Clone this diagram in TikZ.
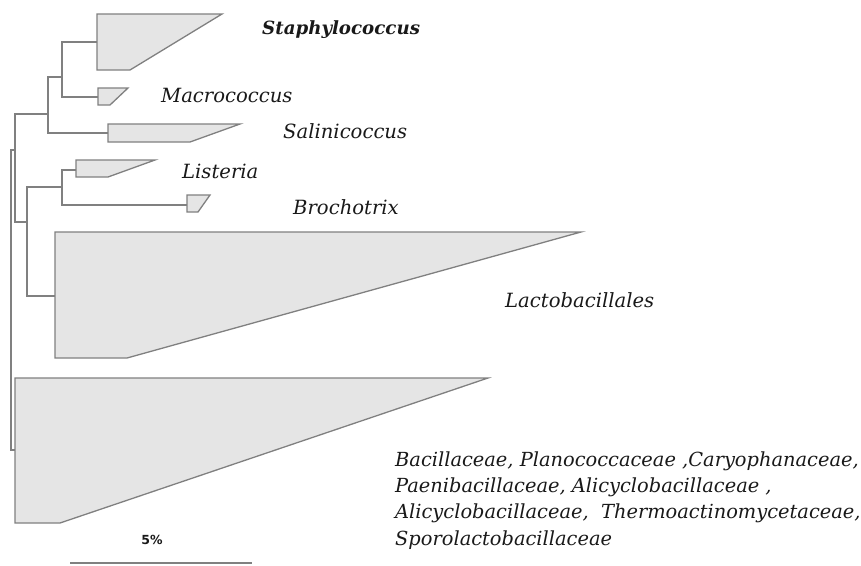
\documentclass[tikz,border=0pt]{standalone}
\usepackage{fontspec}
\setmainfont{DejaVu Serif}
\newfontfamily\labfont{DejaVu Serif}
\newfontfamily\barfont{DejaVu Sans}
\definecolor{linegray}{RGB}{128,128,128}
\definecolor{cladefill}{RGB}{229,229,229}
\definecolor{textcol}{RGB}{25,25,25}
\begin{document}
\begin{tikzpicture}[x=1pt,y=-1pt,
  branch/.style={draw=linegray,line width=1.3pt},
  clade/.style={draw=linegray,fill=cladefill,line width=1.3pt,line join=miter},
  taxon/.style={anchor=west,inner sep=0pt,text=textcol,font=\labfont\itshape\fontsize{19.6}{22}\selectfont},
  bigtaxon/.style={anchor=west,inner sep=0pt,text=textcol,font=\labfont\bfseries\itshape\fontsize{18.2}{21}\selectfont},
  familytext/.style={anchor=base west,inner sep=0pt,text=textcol,align=left,font=\labfont\itshape\fontsize{19.4}{26.2}\selectfont}
]
\useasboundingbox (0,0) rectangle (861,565);

% collapsed clades
\draw[clade] (97,14) -- (222,14) -- (130,70) -- (97,70) -- cycle;
\draw[clade] (98,88) -- (128,88) -- (110,105) -- (98,105) -- cycle;
\draw[clade] (108,124) -- (240,124) -- (190,142) -- (108,142) -- cycle;
\draw[clade] (76,160) -- (155,160) -- (108,177) -- (76,177) -- cycle;
\draw[clade] (187,195) -- (210,195) -- (198,212) -- (187,212) -- cycle;
\draw[clade] (55,232) -- (581,232) -- (127,358) -- (55,358) -- cycle;
\draw[clade] (15,378) -- (488,378) -- (60,523) -- (15,523) -- cycle;

% attachment points of clades
\coordinate (sa) at (97,42);
\coordinate (ma) at (98,97);
\coordinate (si) at (108,133);
\coordinate (li) at (76,170);
\coordinate (br) at (187,205);
\coordinate (la) at (55,296);
\coordinate (ba) at (15,450);

% internal nodes
\coordinate (n1) at (62,77);
\coordinate (n2) at (48,114);
\coordinate (n3) at (62,187);
\coordinate (n4) at (27,222);
\coordinate (n5) at (15,150);
\coordinate (root) at (11,450);

\draw[branch] (sa) -| (n1) |- (ma);
\draw[branch] (n1) -| (n2) |- (si);
\draw[branch] (li) -| (n3) |- (br);
\draw[branch] (n3) -| (n4) |- (la);
\draw[branch] (n2) -| (n5) |- (n4);
\draw[branch] (n5) -| (root) |- (ba);

% labels
\node[bigtaxon] (tstaph) at (262,30) {Staphylococcus};
\node[taxon] (tmacro) at (161,95) {Macrococcus};
\node[taxon] (tsalin) at (283,131) {Salinicoccus};
\node[taxon] (tlist) at (182,171) {Listeria};
\node[taxon] (tbroch) at (293,207) {Brochotrix};
\node[taxon] (tlacto) at (505,300) {Lactobacillales};
\node[familytext] (tbac) at (395,545) {Bacillaceae, Planococcaceae ,Caryophanaceae,\\Paenibacillaceae, Alicyclobacillaceae ,\\Alicyclobacillaceae,\ \ Thermoactinomycetaceae,\\Sporolactobacillaceae};

% scale bar
\coordinate (sb1) at (70,563);
\coordinate (sb2) at (252,563);
\draw[draw=linegray,line width=1.2pt] (sb1) -- (sb2);
\node[inner sep=0pt,text=textcol,font=\barfont\bfseries\fontsize{12.5}{14}\selectfont] (tscale) at (152,540) {5\%};
\end{tikzpicture}
\end{document}
